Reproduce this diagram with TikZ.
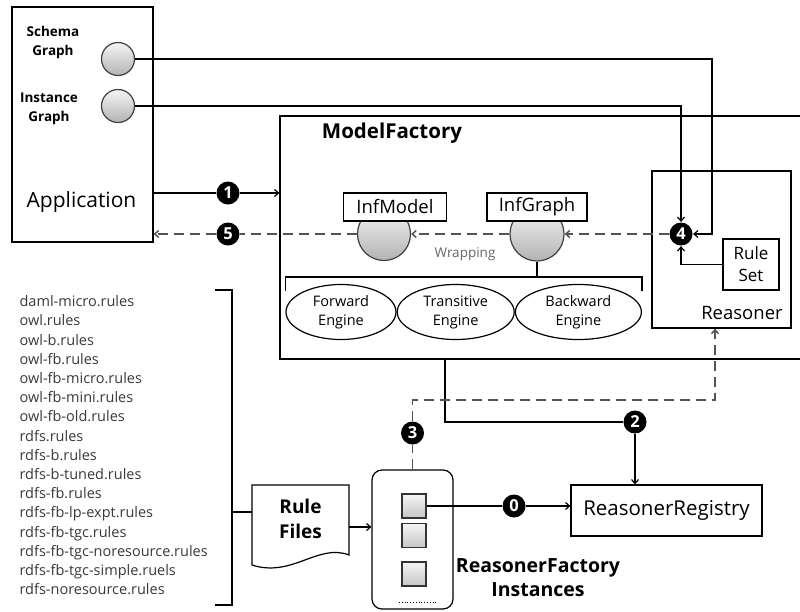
\documentclass[tikz,border=0pt]{standalone}
\usepackage{fontspec}
\setmainfont{Open Sans}
\usepackage{tikz}
\usetikzlibrary{arrows.meta, positioning, shapes.geometric}
\definecolor{BallGray}{rgb}{0.70,0.70,0.70}
\definecolor{DashGray}{rgb}{0.33,0.33,0.33}
\definecolor{ListGray}{rgb}{0.22,0.22,0.25}

\begin{document}
\begin{tikzpicture}[x=1pt, y=-1pt, line width=1.2pt, >={Straight Barb[length=4pt, width=7pt]},
		box/.style={draw, fill=white, inner sep=0pt},
		graphball/.style={circle, draw=black!75, top color=gray!8, bottom color=BallGray, minimum size=#1, inner sep=0pt},
		tile/.style={draw=black!80, top color=gray!8, bottom color=gray!45, minimum size=24pt, inner sep=0pt},
		numdisk/.style={circle, fill=black, text=white, font=\bfseries\fontsize{16.5}{16.5}\selectfont, minimum size=23pt, inner sep=0pt},
		engine/.style={ellipse, draw, minimum height=55pt, align=center, inner sep=0pt, font=\fontsize{14.5}{19}\selectfont},
		dasharrow/.style={draw=DashGray, line width=1.5pt, dash pattern=on 10pt off 6pt}]
		\useasboundingbox (0,0) rectangle (800,611);

		\node[draw, minimum width=560pt, minimum height=243pt] (mf) at (560,237.5) {};
		\node[font=\bfseries\fontsize{20.5}{20.5}\selectfont] (mftitle) at (392,133) {ModelFactory};
		\node[draw, minimum width=139pt, minimum height=157pt] (reasoner) at (721.5,249.5) {};
		\node[font=\fontsize{18.5}{18.5}\selectfont] (rlabel) at (742,313) {Reasoner};
		\node[box, align=center, minimum width=56pt, minimum height=51pt, font=\fontsize{17}{22}\selectfont] (ruleset) at (751,264.5) {Rule\\Set};

		\node[draw, minimum width=141pt, minimum height=235pt] (app) at (82.5,124.5) {};
		\node[font=\bfseries\fontsize{13.5}{19}\selectfont, align=center] (stext) at (53,42) {Schema\\Graph};
		\node[font=\bfseries\fontsize{13.5}{19}\selectfont, align=center] (itext) at (49,109) {Instance\\Graph};
		\node[graphball=33pt] (scirc) at (118,59) {};
		\node[graphball=33pt] (icirc) at (118,106) {};
		\node[font=\fontsize{21}{21}\selectfont] (apptext) at (81.5,202) {Application};

		\node[graphball=53pt] (mcirc) at (384,234) {};
		\node[graphball=54pt] (gcirc) at (537,234) {};
		\node[box, minimum width=103pt, minimum height=28pt, font=\fontsize{18.5}{18.5}\selectfont] (infmodel) at (395,207) {InfModel};
		\node[box, minimum width=100pt, minimum height=28pt, font=\fontsize{18.5}{18.5}\selectfont] (infgraph) at (537,207) {InfGraph};
		\node[text=gray!80!black, font=\fontsize{13.5}{13.5}\selectfont] (wrap) at (465,254) {Wrapping};

		\node[engine, minimum width=110pt] (fwd) at (341,312) {Forward\\Engine};
		\node[engine, minimum width=117pt, right=0pt of fwd] (trans) {Transitive\\Engine};
		\node[engine, minimum width=126pt, right=0pt of trans] (back) {Backward\\Engine};
		\coordinate (brmid) at (537,277);
		\draw (fwd.west |- brmid) ++(0,14) -- (fwd.west |- brmid) -- (back.east |- brmid) -- ++(0,14);
		\draw (gcirc) -- (brmid);

		\node[numdisk] (one) at (228,193) {1};
		\node[numdisk] (five) at (228,234) {5};
		\node[numdisk] (four) at (681,234) {4};
		\node[numdisk] (two) at (635,422) {2};
		\node[numdisk] (three) at (412.5,433) {3};
		\node[numdisk] (zero) at (514,506) {0};

		\draw (app.east |- one) -- (one);
		\draw[->] (one) -- (mf.west |- one);
		\draw[dasharrow, ->] (four) -- (gcirc);
		\draw[dasharrow, ->] (gcirc) -- (mcirc);
		\draw[dasharrow] (mcirc) -- (five);
		\draw[dasharrow, ->] (five) -- (app.east |- five);

		\coordinate (sbend) at (712,234);
		\draw[->] (scirc) -| (sbend) -- (four);
		\draw[->] (icirc) -| (four);
		\draw[->] (ruleset) -| (four);

		\node[box, minimum width=191pt, minimum height=51pt, font=\fontsize{20.5}{20.5}\selectfont] (reg) at (666.5,510.5) {ReasonerRegistry};
		\node[draw, rounded corners=10pt, minimum width=81pt, minimum height=139pt] (rfbox) at (412.5,539.5) {};
		\node[tile] (sqa) at (414,506) {};
		\node[tile] (sqb) at (414,535.5) {};
		\node[tile] (sqc) at (414,574) {};
		\draw[dotted, line width=0.8pt] (399,602) -- (437,602);
		\node[font=\bfseries\fontsize{19.5}{24}\selectfont, align=center] (rftext) at (538,578) {ReasonerFactory\\Instances};

		\coordinate (mfout) at (445,359);
		\draw (mfout) |- (two);
		\draw[->] (two) -- (two |- reg.north);
		\coordinate (dbend) at (715,400);
		\draw[dasharrow] (rfbox.north) -- (three);
		\draw[dasharrow, ->] (three) |- (dbend) -- (dbend |- reasoner.south);
		\draw (sqa) -- (zero);
		\draw[->] (zero) -- (reg.west |- zero);

		\draw (252,485) -- (349,485) -- (349,555) .. controls (318,543) and (292,578) .. (252,565) -- cycle;
		\node[font=\bfseries\fontsize{19}{25}\selectfont, align=center] (rulefiles) at (300.5,519) {Rule\\Files};
		\coordinate (rfout) at (349,527);
		\draw[->] (rfout) -- (rfbox.west |- rfout);

		\node[anchor=north west, inner sep=0pt, align=left, text=ListGray, font=\fontsize{14.5}{19.2}\selectfont] (rules) at (19,295) {daml-micro.rules\\owl.rules\\owl-b.rules\\owl-fb.rules\\owl-fb-micro.rules\\owl-fb-mini.rules\\owl-fb-old.rules\\rdfs.rules\\rdfs-b.rules\\rdfs-b-tuned.rules\\rdfs-fb.rules\\rdfs-fb-lp-expt.rules\\rdfs-fb-tgc.rules\\rdfs-fb-tgc-noresource.rules\\rdfs-fb-tgc-simple.ruels\\rdfs-noresource.rules};
		\coordinate (brtip) at (232,512);
		\coordinate (rfin) at (252,512);
		\draw (215,290) -- (232,290) -- (232,605) -- (215,605);
		\draw (brtip) -- (rfin);
	\end{tikzpicture}
\end{document}
